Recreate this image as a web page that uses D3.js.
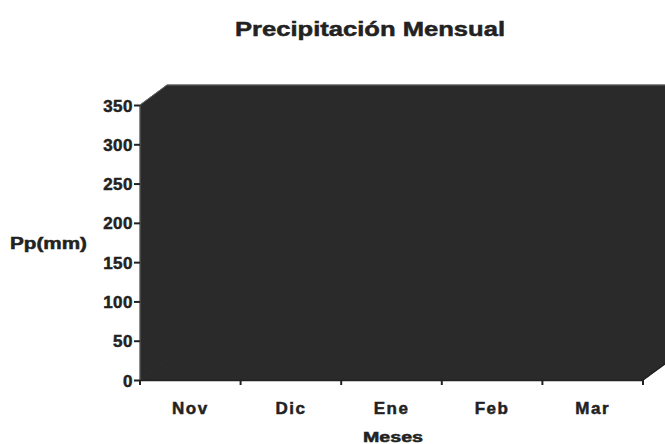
<!DOCTYPE html>
<html><head><meta charset="utf-8">
<script src="https://cdn.jsdelivr.net/npm/d3@7"></script>
<style>body{margin:0;background:#fff}svg{display:block}text{font-family:"Liberation Sans",Arial,sans-serif;font-weight:bold;fill:#222;stroke:#222;stroke-width:0.5px}</style>
</head><body>
<script>
const months = ["Nov","Dic","Ene","Feb","Mar"];
const yTicks = [0,50,100,150,200,250,300,350];
const yMax = 350;
const title = "Precipitación Mensual";
const yLabel = "Pp(mm)";
const xLabel = "Meses";

const W=665,H=444;
const svg=d3.select("body").append("svg").attr("width",W).attr("height",H);
const x=d3.scaleBand().domain(months).range([140,643]);
const y=d3.scaleLinear().domain([0,yMax]).range([380,105]);
const dx=27, dy=-20;
const wall="#2a2a2a";

// 3D walls: floor, left side wall, back wall
const x0=x.range()[0], x1=x.range()[1], yb=y(0), yt=y(yMax);
const shapes=[
 [[x0,yb],[x1,yb],[x1+dx,yb+dy],[x0+dx,yb+dy]],
 [[x0,yb],[x0,yt],[x0+dx,yt+dy],[x0+dx,yb+dy]],
 [[x0+dx,yb+dy],[x0+dx,yt+dy],[x1+dx,yt+dy],[x1+dx,yb+dy]]
];
svg.selectAll("path.wall").data(shapes).join("path").attr("class","wall")
 .attr("d",d=>d3.line()(d)+"Z").attr("fill",wall).attr("stroke",wall).attr("stroke-width",1);
svg.append("path").attr("d",d3.line()([[x0,yb],[x0,yt],[x0+dx,yt+dy],[x1+dx,yt+dy]])).attr("fill","none").attr("stroke","#777").attr("stroke-width",0.8);

// y axis
const ya=svg.append("g").attr("transform",`translate(${x0},0)`)
 .call(d3.axisLeft(y).tickValues(yTicks).tickSize(6).tickPadding(1).tickFormat(d3.format("d")));
ya.select(".domain").remove();
ya.selectAll("line").attr("stroke","#222").attr("stroke-width",2);
ya.selectAll("text").style("font-size","17px").attr("dy","0.36em").style("letter-spacing","0.5px").attr("fill","#222");

// x axis
const xa=svg.append("g").attr("transform",`translate(0,${yb})`)
 .call(d3.axisBottom(x).tickSize(0).tickPadding(22));
xa.select(".domain").attr("stroke","#222").attr("stroke-width",1.5);
xa.selectAll("text").style("font-size","17px").style("letter-spacing","1.5px").attr("fill","#222");
const bounds=months.map(m=>x(m)).concat([x1]);
svg.selectAll("line.xt").data(bounds).join("line").attr("class","xt")
 .attr("x1",d=>d).attr("x2",d=>d).attr("y1",yb).attr("y2",yb+5).attr("stroke","#222").attr("stroke-width",2);
svg.append("line").attr("x1",x1).attr("y1",yb).attr("x2",x1+dx).attr("y2",yb+dy).attr("stroke","#222").attr("stroke-width",1.5);

svg.append("text").attr("x",370).attr("y",36).attr("text-anchor","middle").style("font-size","21px")
 .attr("textLength",270).attr("lengthAdjust","spacingAndGlyphs").text(title);
svg.append("text").attr("x",10).attr("y",249).style("font-size","16px").attr("textLength",77).attr("lengthAdjust","spacingAndGlyphs").text(yLabel);
svg.append("text").attr("x",393).attr("y",442).attr("text-anchor","middle").style("font-size","14px").attr("textLength",60).attr("lengthAdjust","spacingAndGlyphs").text(xLabel);
</script>
</body></html>
